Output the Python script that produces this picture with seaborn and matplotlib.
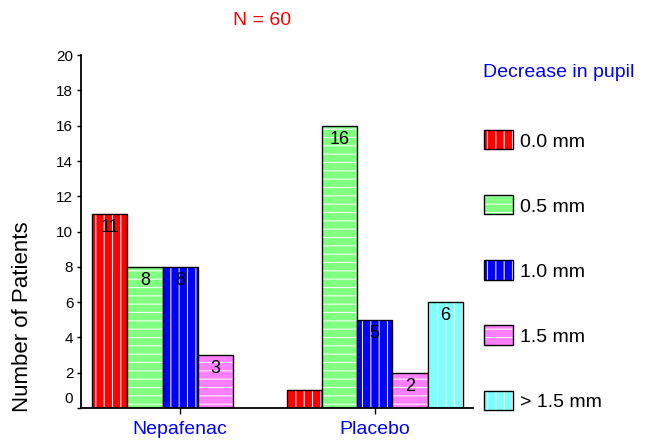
import matplotlib
matplotlib.use("Agg")
import matplotlib.pyplot as plt
from matplotlib.patches import Patch
from matplotlib.transforms import ScaledTranslation
import seaborn as sns
import pandas as pd

groups = ["Nepafenac", "Placebo"]
sizes = ["0.0 mm", "0.5 mm", "1.0 mm", "1.5 mm", "> 1.5 mm"]
nepafenac = [11, 8, 8, 3, 0]
placebo = [1, 16, 5, 2, 6]
colors = ["#ff0000", "#80ff80", "#0000ff", "#ff80ff", "#80ffff"]
hatches = ["||", "--", "||", "--", "||"]
yticks = [0, 2, 4, 6, 8, 10, 12, 14, 16, 18, 20]

rows = []
for s, v in zip(sizes, nepafenac):
    rows.append({"group": groups[0], "size": s, "count": v})
for s, v in zip(sizes, placebo):
    rows.append({"group": groups[1], "size": s, "count": v})
df = pd.DataFrame(rows)

sns.set_style("white")
plt.rcParams["font.family"] = ["Liberation Sans", "DejaVu Sans"]
plt.rcParams["hatch.linewidth"] = 0.8
plt.rcParams["text.color"] = "black"
plt.rcParams["axes.labelcolor"] = "black"
plt.rcParams["xtick.color"] = "black"
plt.rcParams["ytick.color"] = "black"

fig = plt.figure(figsize=(6.48, 4.45), dpi=100)
ax = fig.add_axes([0.125, 0.083, 0.605, 0.793])

sns.barplot(data=df, x="group", y="count", hue="size", order=groups,
            hue_order=sizes, palette=colors, width=0.905, gap=0,
            edgecolor="black", linewidth=1.0, saturation=1, ax=ax,
            legend=False, errorbar=None)

for cont, h in zip(ax.containers, hatches):
    for p in cont.patches:
        p.set_hatch(h)
        p._hatch_color = (1, 1, 1, 0.9)
        if p.get_height() == 0:
            p.set_visible(False)
    labels = [f"{int(v)}" if v > 1 else "" for v in cont.datavalues]
    txts = ax.bar_label(cont, labels=labels, padding=-3.5, fontsize=13, color="black")
    for t in txts:
        t.set_va("top")

ax.set_xlim(-0.51, 1.505)
ax.set_ylim(0, 20)
ax.set_yticks(yticks)
ax.set_yticklabels([str(v) for v in yticks], fontsize=11, color="black")
ax.set_xlabel("")
ax.set_ylabel("Number of Patients", fontsize=16, color="black")
ax.yaxis.set_label_coords(-0.122, 0.258)
ax.tick_params(axis="x", labelsize=14, colors="black", labelcolor="#0000ff",
               length=4, width=1, direction="out", bottom=True, pad=5)
ax.tick_params(axis="y", length=3, width=1, direction="out", left=True, pad=2.5,
               colors="black")
for side in ["top", "right"]:
    ax.spines[side].set_visible(False)
for side in ["left", "bottom"]:
    ax.spines[side].set_color("black")
    ax.spines[side].set_linewidth(1.3)

# the "0" label sits a little above its tick in the original
lbl0 = ax.get_yticklabels()[0]
lbl0.set_transform(lbl0.get_transform() + ScaledTranslation(0, 0.11, fig.dpi_scale_trans))

fig.text(0.404, 0.955, "N = 60", color="#ff0000", fontsize=14, ha="center", va="center")
fig.text(0.745, 0.838, "Decrease in pupil", color="#0000ff", fontsize=14, ha="left", va="center")

handles = []
for c, h in zip(colors, hatches):
    p = Patch(facecolor=c, edgecolor="black", linewidth=1.0, hatch=h)
    p._hatch_color = (1, 1, 1, 0.9)
    handles.append(p)
leg = fig.legend(handles, sizes, loc="upper left", bbox_to_anchor=(0.747, 0.707),
                 frameon=False, fontsize=14, handlelength=1.49, handleheight=1.13,
                 labelspacing=2.31, handletextpad=0.36, borderpad=0, borderaxespad=0,
                 labelcolor="black")
for p in leg.get_patches():
    p._hatch_color = (1, 1, 1, 0.9)

fig.savefig("out.png", dpi=100)
